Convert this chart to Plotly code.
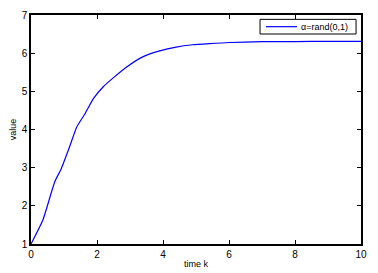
import plotly.graph_objects as go

time_k = [0, 0.36, 0.72, 0.92, 1.15, 1.39, 1.64, 1.89, 2.19, 2.5, 2.9, 3.4, 3.9, 4.4, 4.9, 5.4, 6.0, 7.0, 8.0, 9.0, 10.0]
value = [1.0, 1.63, 2.63, 2.98, 3.5, 4.07, 4.42, 4.81, 5.12, 5.36, 5.64, 5.91, 6.06, 6.16, 6.22, 6.25, 6.28, 6.30, 6.305, 6.31, 6.31]
series_name = "α=rand(0,1)"
x_ticks = [0, 2, 4, 6, 8, 10]
y_ticks = [1, 2, 3, 4, 5, 6, 7]

FONT = "Liberation Sans, Arial, sans-serif"
LINE_COLOR = "#0000ff"

fig = go.Figure()
fig.add_trace(go.Scatter(x=time_k, y=value, mode="lines", name=series_name, showlegend=False,
                         line=dict(color=LINE_COLOR, width=1.2, shape="spline", smoothing=0.5)))

axis_common = dict(showline=True, linecolor="black", linewidth=1.5, mirror="ticks",
                   ticks="inside", ticklen=4, tickcolor="black", showgrid=False,
                   zeroline=False, automargin=False,
                   tickfont=dict(family=FONT, size=10, color="black"))
fig.update_xaxes(range=[0, 10], tickvals=x_ticks, title=dict(text="time k", standoff=2,
                 font=dict(family=FONT, size=9, color="black")), **axis_common)
fig.update_yaxes(range=[1, 7], tickvals=y_ticks, title=dict(text="value", standoff=4,
                 font=dict(family=FONT, size=9, color="black")), **axis_common)

# compact MATLAB-style legend box (paper coordinates)
fig.add_shape(type="rect", xref="paper", yref="paper", x0=0.694, x1=0.985, y0=0.917, y1=0.981,
              line=dict(color="black", width=1), fillcolor="white", layer="above")
fig.add_shape(type="line", xref="paper", yref="paper", x0=0.712, x1=0.806, y0=0.949, y1=0.949,
              line=dict(color=LINE_COLOR, width=1.2), layer="above")
fig.add_annotation(text=series_name, xref="paper", yref="paper", x=0.812, y=0.949,
                   xanchor="left", yanchor="middle", showarrow=False,
                   font=dict(family=FONT, size=9, color="black"))

fig.update_layout(width=378, height=273, margin=dict(l=31, r=17, t=15, b=29, autoexpand=False),
                  plot_bgcolor="white", paper_bgcolor="white", showlegend=False)
fig.write_html("out.html", config={"displayModeBar": False},
               post_script="document.body.style.margin='0px';document.body.style.overflow='hidden';")
